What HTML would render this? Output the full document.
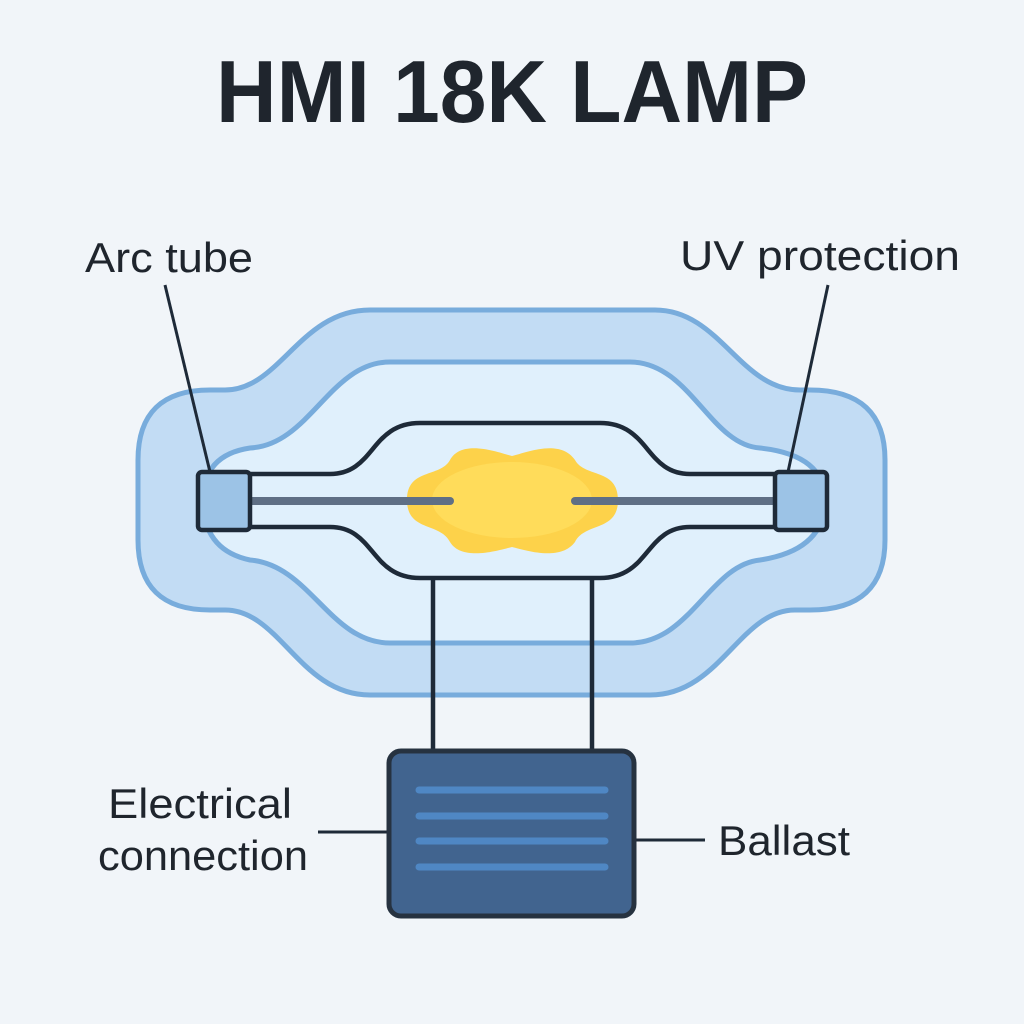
<!DOCTYPE html>
<html><head><meta charset="utf-8"><style>html,body{margin:0;padding:0;background:#f1f5f9;}svg{display:block}</style></head>
<body>
<svg width="1024" height="1024" viewBox="0 0 1024 1024" xmlns="http://www.w3.org/2000/svg">
<rect width="1024" height="1024" fill="#f1f5f9"/>
<text x="512" y="122" text-anchor="middle" font-family="Liberation Sans, sans-serif" font-weight="bold" font-size="88" fill="#1f252d" textLength="592" lengthAdjust="spacingAndGlyphs">HMI 18K LAMP</text>
<path d="M370 310 H655 C720 310 740 390 800 390 H810 Q885 390 885 460 V540 Q885 610 810 610 H795 C740 610 720 695 650 695 H370 C300 695 280 610 225 610 H210 Q138 610 138 540 V460 Q138 390 210 390 H225 C280 390 300 310 370 310 Z" fill="#c2dcf4" stroke="#78acdc" stroke-width="5"/>
<path d="M390 362 H630 C690 362 710 445 760 448 Q825 455 825 500 Q825 550 760 560 C710 565 690 643 630 643 H390 C330 643 310 565 250 560 Q203 550 203 500 Q203 455 250 448 C310 445 330 362 390 362 Z" fill="#e0f0fc" stroke="#78acdc" stroke-width="5"/>
<path d="M250 474 H330 C375 474 370 423 420 423 H600 C650 423 645 474 690 474 H775 M250 527 H330 C375 527 370 578 420 578 H600 C650 578 645 527 690 527 H775" fill="none" stroke="#1e2a38" stroke-width="4.5"/>
<path d="M407 500 C407 468 440 478 450 460 C462 438 500 453 512 456 C525 453 560 438 575 460 C585 478 618 468 618 500 C618 532 585 522 575 542 C560 562 525 550 512 547 C500 550 462 562 450 542 C440 522 407 532 407 500 Z" fill="#fdd24a"/>
<ellipse cx="512" cy="500" rx="80" ry="38" fill="#ffdc5a"/>
<line x1="250" y1="501" x2="450" y2="501" stroke="#5f6f85" stroke-width="8" stroke-linecap="round"/>
<line x1="575" y1="501" x2="775" y2="501" stroke="#5f6f85" stroke-width="8" stroke-linecap="round"/>
<rect x="198" y="472" width="52" height="58" rx="4" fill="#9cc3e6" stroke="#1e2a38" stroke-width="4.5"/>
<rect x="775" y="472" width="52" height="58" rx="4" fill="#9cc3e6" stroke="#1e2a38" stroke-width="4.5"/>
<line x1="433" y1="578" x2="433" y2="752" stroke="#1e2a38" stroke-width="4.5"/>
<line x1="592" y1="578" x2="592" y2="752" stroke="#1e2a38" stroke-width="4.5"/>
<line x1="165" y1="285" x2="210" y2="472" stroke="#1e2a38" stroke-width="3"/>
<line x1="828" y1="285" x2="788" y2="472" stroke="#1e2a38" stroke-width="3"/>
<line x1="318" y1="832" x2="388" y2="832" stroke="#1e2a38" stroke-width="3"/>
<line x1="634" y1="840" x2="705" y2="840" stroke="#1e2a38" stroke-width="3"/>
<rect x="389" y="751" width="245" height="165" rx="12" fill="#41648f" stroke="#263240" stroke-width="5"/>
<g stroke="#4f87c4" stroke-width="7" stroke-linecap="round">
<line x1="419" y1="790" x2="605" y2="790"/><line x1="419" y1="816" x2="605" y2="816"/>
<line x1="419" y1="841" x2="605" y2="841"/><line x1="419" y1="867" x2="605" y2="867"/>
</g>
<g font-family="Liberation Sans, sans-serif" font-size="42" fill="#1f252d">
<text x="85" y="272" textLength="168" lengthAdjust="spacingAndGlyphs">Arc tube</text>
<text x="680" y="270" textLength="280" lengthAdjust="spacingAndGlyphs">UV protection</text>
<text x="108" y="818" textLength="184" lengthAdjust="spacingAndGlyphs">Electrical</text>
<text x="98" y="870" textLength="210" lengthAdjust="spacingAndGlyphs">connection</text>
<text x="718" y="855" textLength="132" lengthAdjust="spacingAndGlyphs">Ballast</text>
</g>
</svg>
</body></html>
